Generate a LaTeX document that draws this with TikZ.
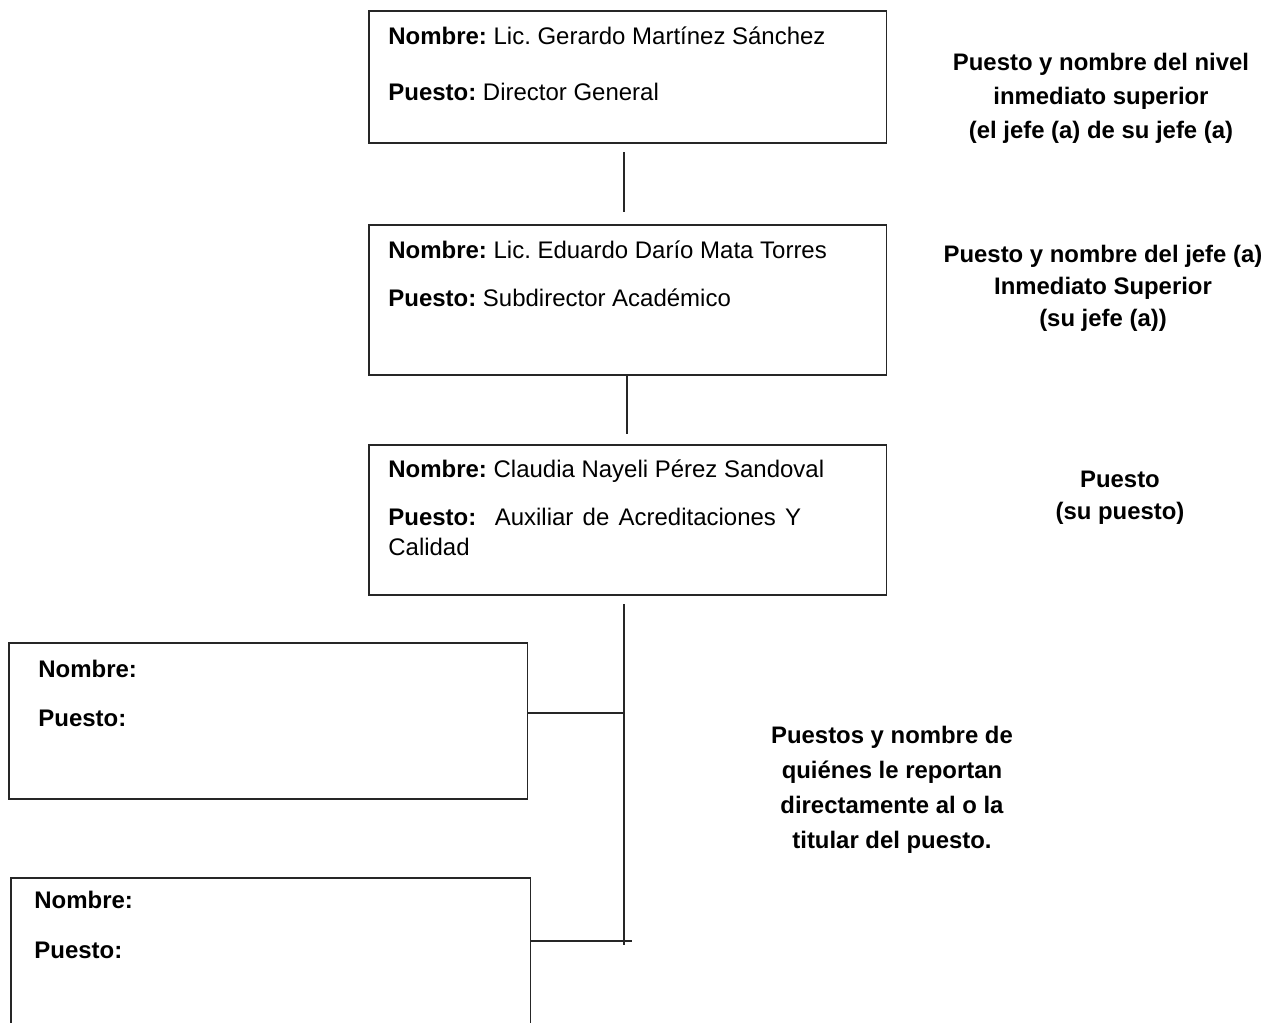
\documentclass[tikz,border=0pt]{standalone}
\usepackage{fontspec}
\setmainfont{Liberation Sans}
\frenchspacing
\begin{document}
\begin{tikzpicture}[x=0.02cm,y=-0.02cm]
\tikzset{
  card/.style={draw=black!85, line width=0.9pt, rectangle, anchor=north west, inner sep=0pt},
  wire/.style={draw=black!85, line width=0.9pt},
  txt/.style={anchor=base west, inner sep=0pt, font=\fontsize{13.65}{16}\selectfont},
  note/.style={anchor=base, inner sep=0pt, font=\fontsize{13.6}{16}\selectfont\bfseries},
}
\useasboundingbox (0,0) rectangle (1279,1022);
\clip (0,0) rectangle (1279,1022);

% boxes
\node[card, minimum width=10.36cm, minimum height=2.64cm] (b1) at (368,10) {};
\node[card, minimum width=10.36cm, minimum height=3.0cm] (b2) at (368,224) {};
\node[card, minimum width=10.36cm, minimum height=3.0cm] (b3) at (368,444) {};
\node[card, minimum width=10.38cm, minimum height=3.12cm] (b4) at (8,642) {};
\node[card, minimum width=10.4cm, minimum height=3.6cm] (b5) at (10,877) {};

% box texts
\node[txt] (b1n) at (388,44) {\textbf{Nombre:} Lic. Gerardo Martínez Sánchez};
\node[txt] (b1p) at (388,100) {\textbf{Puesto:} Director General};
\node[txt] (b2n) at (388,258) {\textbf{Nombre:} Lic. Eduardo Darío Mata Torres};
\node[txt] (b2p) at (388,306) {\textbf{Puesto:} Subdirector Académico};
\node[txt] (b3n) at (388,477) {\textbf{Nombre:} Claudia Nayeli Pérez Sandoval};
\node[txt] (b3p) at (388,525) {\makebox[8.26cm][s]{\textbf{Puesto:}\ \ Auxiliar de Acreditaciones Y}};
\node[txt] (b3c) at (388,555) {Calidad};
\node[txt] (b4n) at (38,677) {\textbf{Nombre:}};
\node[txt] (b4p) at (38,726) {\textbf{Puesto:}};
\node[txt] (b5n) at (34,908) {\textbf{Nombre:}};
\node[txt] (b5p) at (34,958) {\textbf{Puesto:}};

% connector end points
\coordinate (c1a) at (624,152);
\coordinate (c1b) at (624,212);
\coordinate (c2a) at (627,374);
\coordinate (c2b) at (627,434);
\coordinate (c3a) at (624,604);
\coordinate (c3b) at (624,945);
\coordinate (h1a) at (527,713);
\coordinate (h1b) at (624,713);
\coordinate (h2a) at (530,941);
\coordinate (h2b) at (632,941);

\draw[wire] (c1a) -- (c1b);
\draw[wire] (c2a) -- (c2b);
\draw[wire] (c3a) -- (c3b);
\draw[wire] (h1a) -- (h1b);
\draw[wire] (h2a) -- (h2b);

% side notes
\node[note] (n1a) at (1101,70) {Puesto y nombre del nivel};
\node[note] (n1b) at (1101,104) {inmediato superior};
\node[note] (n1c) at (1101,138) {(el jefe (a) de su jefe (a)};
\node[note] (n2a) at (1103,262) {Puesto y nombre del jefe (a)};
\node[note] (n2b) at (1103,294) {Inmediato Superior};
\node[note] (n2c) at (1103,326) {(su jefe (a))};
\node[note] (n3a) at (1120,487) {Puesto};
\node[note] (n3b) at (1120,519) {(su puesto)};
\node[note] (n4a) at (892,743) {Puestos y nombre de};
\node[note] (n4b) at (892,778) {quiénes le reportan};
\node[note] (n4c) at (892,813) {directamente al o la};
\node[note] (n4d) at (892,848) {titular del puesto.};
\end{tikzpicture}
\end{document}
